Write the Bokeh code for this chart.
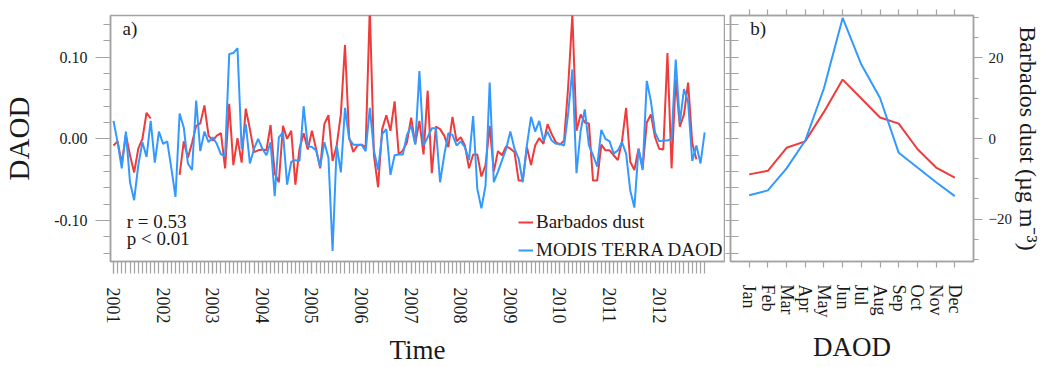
import numpy as np
from bokeh.plotting import figure
from bokeh.models import Range1d, LinearAxis, FixedTicker, Label, Legend, LegendItem
from bokeh.layouts import row
from bokeh.embed import file_html
from bokeh.resources import INLINE

# ---------------- data ----------------
years = [str(y) for y in range(2001, 2013)]
month_names = ["Jan", "Feb", "Mar", "Apr", "May", "Jun",
               "Jul", "Aug", "Sep", "Oct", "Nov", "Dec"]

# monthly anomalies Jan 2001 .. Dec 2012 (DAOD units)
modis_daod = [
    0.022, -0.004, -0.036, 0.009, -0.053, -0.075, -0.032, -0.004, -0.022, 0.022, -0.029, 0.009,
    -0.006, -0.003, -0.036, -0.071, 0.031, 0.014, -0.030, -0.038, 0.047, -0.015, 0.009, -0.004,
    0.002, -0.006, -0.019, -0.021, 0.104, 0.105, 0.111, -0.012, 0.018, -0.030, -0.012, 0.000,
    -0.012, -0.020, -0.004, -0.070, 0.002, 0.008, -0.056, -0.028, -0.026, -0.027, 0.040, -0.009,
    -0.010, -0.014, -0.034, -0.004, -0.023, -0.137, -0.008, -0.041, 0.038, 0.000, -0.007, -0.007,
    -0.007, -0.015, 0.038, -0.014, -0.038, 0.006, 0.012, -0.044, -0.020, -0.019, -0.019, 0.005,
    0.016, -0.007, 0.083, -0.008, 0.002, 0.013, 0.013, -0.053, -0.020, 0.007, 0.005, -0.008,
    -0.003, -0.010, -0.026, 0.028, -0.061, -0.085, -0.057, 0.069, -0.053, -0.040, -0.026, -0.012,
    0.009, -0.012, -0.024, -0.053, -0.008, 0.027, 0.009, 0.022, -0.002, 0.009, -0.002, -0.006,
    -0.006, -0.008, 0.032, 0.085, -0.042, 0.010, 0.036, -0.008, -0.020, -0.034, 0.011, 0.000,
    -0.003, -0.018, -0.014, -0.004, -0.018, -0.063, -0.084, -0.012, -0.038, 0.071, 0.046, 0.008,
    -0.003, -0.002, -0.002, 0.000, 0.097, 0.020, 0.061, 0.045, -0.027, -0.008, -0.030, 0.008,
]
barbados_dust = [
    -0.008, -0.003, -0.030, 0.005, -0.020, -0.041, -0.012, 0.000, 0.032, 0.025, None, None,
    None, None, None, None, -0.044, -0.003, -0.023, -0.005, 0.016, 0.019, 0.041, 0.004,
    -0.002, 0.004, 0.007, -0.036, 0.043, -0.032, 0.001, -0.029, 0.037, 0.012, -0.016, -0.014,
    -0.013, -0.014, 0.017, -0.042, -0.053, 0.016, 0.000, 0.010, -0.056, -0.012, 0.007, -0.013,
    0.010, -0.012, -0.036, 0.018, 0.029, -0.027, -0.008, 0.030, 0.115, 0.002, -0.016, -0.008,
    -0.007, -0.010, 0.160, -0.020, -0.059, 0.012, 0.029, 0.010, 0.046, -0.019, -0.014, -0.004,
    0.026, -0.006, 0.022, -0.019, 0.059, -0.042, 0.015, 0.012, 0.004, -0.010, 0.027, -0.003,
    0.002, -0.008, -0.036, -0.019, -0.019, -0.046, -0.032, 0.016, -0.040, -0.015, -0.020, -0.009,
    -0.012, -0.016, -0.051, -0.051, -0.010, -0.032, -0.008, 0.001, -0.006, 0.018, 0.006, -0.004,
    -0.007, -0.002, 0.065, 0.152, 0.010, 0.030, 0.020, 0.019, -0.051, -0.051, -0.007, -0.014,
    -0.014, -0.020, -0.026, -0.003, 0.038, -0.028, -0.038, -0.012, -0.036, 0.020, 0.030, 0.002,
    -0.012, -0.013, 0.105, -0.036, 0.073, 0.015, 0.030, 0.069, -0.005, -0.025, None, None,
]

# monthly climatology anomalies (panel b)
clim_daod = [-0.069, -0.063, -0.036, -0.002, 0.062, 0.148,
             0.091, 0.050, -0.017, -0.035, -0.053, -0.070]
clim_dust = [-8.9, -8.0, -2.3, -0.7, 6.6, 14.6,
             9.9, 5.2, 3.7, -2.6, -7.2, -9.7]

# ---------------- style ----------------
FONT = "Liberation Serif"
GRAY = "#a3a3a3"
TXT = "#1a1a1a"
RED = "#ee3b3b"
BLUE = "#3399ff"

t = np.arange(len(modis_daod))
daod = np.array(modis_daod, dtype=float)
dust = np.array([np.nan if v is None else v for v in barbados_dust], dtype=float)
daod_minor = [round(-0.14 + 0.02 * k, 2) for k in range(15)]


def style_axis(ax, label_size="16px"):
    ax.axis_line_color = GRAY
    ax.axis_line_width = 1.5
    ax.major_tick_line_color = GRAY
    ax.minor_tick_line_color = GRAY
    ax.major_tick_line_width = 1.2
    ax.minor_tick_line_width = 1.2
    ax.major_label_text_font = FONT
    ax.major_label_text_font_size = label_size
    ax.major_label_text_color = TXT
    ax.axis_label_text_font = FONT
    ax.axis_label_text_font_style = "normal"
    ax.axis_label_text_color = TXT


# ---------------- panel a ----------------
pa = figure(width=725, height=367, output_backend="svg", toolbar_location=None,
            x_range=Range1d(-0.72, 147.8), y_range=Range1d(-0.15, 0.151),
            min_border_left=107, min_border_right=1, min_border_top=15,
            min_border_bottom=103)
pa.grid.visible = False
pa.outline_line_color = GRAY
pa.outline_line_width = 1.5
pa.background_fill_color = "white"
pa.border_fill_color = "white"

r_red = pa.line(t, dust, line_color=RED, line_width=2)
r_blue = pa.line(t, daod, line_color=BLUE, line_width=2)

yax = pa.yaxis[0]
style_axis(yax)
yax.ticker = FixedTicker(ticks=[-0.1, 0.0, 0.1], minor_ticks=daod_minor)
yax.major_label_overrides = {-0.1: "-0.10", 0.0: "0.00", 0.1: "0.10"}
yax.major_tick_out = 15
yax.major_tick_in = 0
yax.minor_tick_out = 7
yax.minor_tick_in = 0
yax.major_label_standoff = 8
yax.axis_label = "DAOD"
yax.axis_label_text_font_size = "29px"
yax.axis_label_standoff = 16

xax = pa.xaxis[0]
style_axis(xax, "18px")
xax.ticker = FixedTicker(ticks=[12 * k for k in range(len(years))],
                         minor_ticks=list(range(len(modis_daod))))
xax.major_label_overrides = {12 * k: y for k, y in enumerate(years)}
xax.major_label_orientation = "vertical"
xax.major_label_text_baseline = "top"
xax.major_tick_out = 12
xax.major_tick_in = 0
xax.minor_tick_out = 12
xax.minor_tick_in = 0
xax.major_label_standoff = 14
xax.axis_label = "Time"
xax.axis_label_text_font_size = "27px"
xax.axis_label_standoff = 8

legend = Legend(items=[LegendItem(label="Barbados dust", renderers=[r_red]),
                       LegendItem(label="MODIS TERRA DAOD", renderers=[r_blue])],
                location="bottom_right", border_line_color=None,
                background_fill_alpha=0, label_text_font=FONT,
                label_text_font_size="19px", label_text_color=TXT,
                glyph_width=15, label_standoff=3, spacing=6, padding=1, margin=0,
                label_width=188)
pa.add_layout(legend)

lab_kw = dict(text_font=FONT, text_font_size="19px", text_color=TXT, text_baseline="top")
pa.add_layout(Label(x=2.2, y=0.148, text="a)", **lab_kw))
pa.add_layout(Label(x=3.2, y=-0.088, text="r = 0.53", **lab_kw))
pa.add_layout(Label(x=3.2, y=-0.109, text="p < 0.01", **lab_kw))

# ---------------- panel b ----------------
mon = np.arange(1, 13)
pb = figure(width=318, height=367, output_backend="svg", toolbar_location=None,
            x_range=Range1d(0, 13), y_range=Range1d(-30.5, 30.5),
            y_axis_location="right",
            min_border_left=5, min_border_right=65, min_border_top=15,
            min_border_bottom=103)
pb.grid.visible = False
pb.outline_line_color = GRAY
pb.outline_line_width = 1.5
pb.background_fill_color = "white"
pb.border_fill_color = "white"
pb.extra_y_ranges = {"daod": Range1d(-0.15, 0.151)}

pb.line(mon, clim_dust, line_color=RED, line_width=2)
pb.line(mon, clim_daod, line_color=BLUE, line_width=2, y_range_name="daod")

rax = pb.yaxis[0]
style_axis(rax, "15px")
rax.ticker = FixedTicker(ticks=[-20, 0, 20], minor_ticks=list(range(-30, 31, 5)))
rax.major_tick_out = 9
rax.major_tick_in = 0
rax.minor_tick_out = 5
rax.minor_tick_in = 0
rax.major_label_standoff = 6
rax.axis_label = "Barbados dust (\u00b5g m\u207b\u00b3)"
rax.axis_label_text_font_size = "24px"
rax.axis_label_standoff = 0
rax.axis_label_orientation = "vertical"

# unlabelled DAOD axis on the left of panel b: ticks only (drawn as minor ticks)
lax = LinearAxis(y_range_name="daod")
style_axis(lax)
lax.ticker = FixedTicker(ticks=[], minor_ticks=daod_minor)
lax.minor_tick_out = 5
lax.minor_tick_in = 8
lax.major_tick_out = 5
lax.major_label_standoff = 0
pb.add_layout(lax, "left")

bax = pb.xaxis[0]
style_axis(bax, "18px")
bax.ticker = FixedTicker(ticks=list(mon), minor_ticks=[])
bax.major_label_overrides = {int(m): n for m, n in zip(mon, month_names)}
bax.major_label_orientation = "vertical"
bax.major_label_text_baseline = "top"
bax.major_tick_out = 6
bax.major_tick_in = 0
bax.major_label_standoff = 17
bax.axis_label = "DAOD"
bax.axis_label_text_font_size = "27px"
bax.axis_label_standoff = 12

# unlabelled month ticks along the top of panel b
tax = LinearAxis()
style_axis(tax)
tax.ticker = FixedTicker(ticks=[], minor_ticks=list(mon))
tax.minor_tick_out = 6
tax.minor_tick_in = 0
tax.major_tick_out = 6
tax.major_label_standoff = 0
pb.add_layout(tax, "above")

pb.add_layout(Label(x=1.05, y=30.0, text="b)", **lab_kw))

layout = row(pa, pb)
open("out.html", "w").write(file_html(layout, INLINE))
